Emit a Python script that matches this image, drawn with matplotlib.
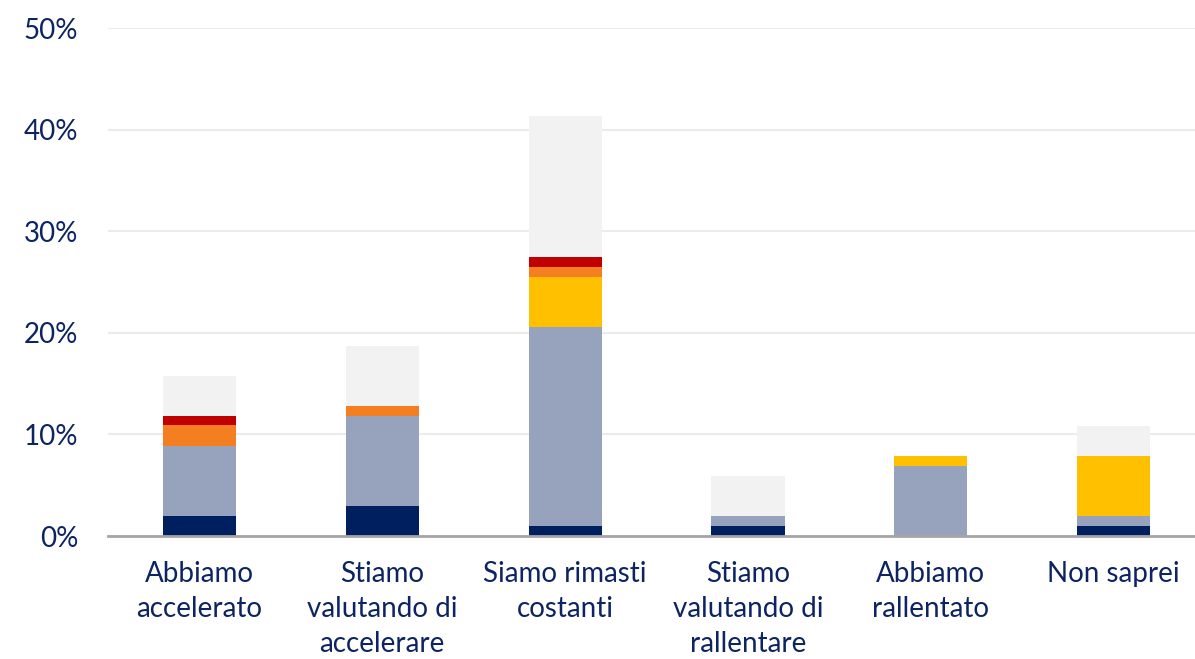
import matplotlib.pyplot as plt
import numpy as np

plt.rcParams['font.family'] = ['Lato', 'DejaVu Sans']

categories = ['Abbiamo\naccelerato', 'Stiamo\nvalutando di\naccelerare', 'Siamo rimasti\ncostanti',
              'Stiamo\nvalutando di\nrallentare', 'Abbiamo\nrallentato', 'Non saprei']

# segment values (%), bottom to top
navy = [2.0, 3.0, 1.0, 1.0, 0.0, 1.0]
greyblue = [6.9, 8.8, 19.6, 1.0, 6.9, 1.0]
yellow = [0.0, 0.0, 4.9, 0.0, 1.0, 5.85]
orange = [2.0, 0.95, 1.0, 0.0, 0.0, 0.0]
red = [0.95, 0.0, 1.0, 0.0, 0.0, 0.0]
lightgrey = [3.9, 6.0, 13.8, 3.9, 0.0, 3.0]

series = [navy, greyblue, yellow, orange, red, lightgrey]
colors = ['#001f5f', '#97a3bd', '#ffc000', '#f47f20', '#c00000', '#f2f2f2']

text_col = '#0d2463'

fig = plt.figure(figsize=(11.95, 6.59), dpi=100)
ax = fig.add_axes([0.0904, 0.1866, 0.918, 0.7709])

x = np.arange(len(categories))
bottom = np.zeros(len(categories))
for vals, c in zip(series, colors):
    ax.bar(x, vals, bottom=bottom, width=0.4, color=c, zorder=3)
    bottom += np.array(vals)

ax.set_xlim(-0.5, len(categories) - 0.5)
ax.set_ylim(0, 50)
ax.set_yticks([0, 10, 20, 30, 40, 50])
ax.set_yticklabels(['0%', '10%', '20%', '30%', '40%', '50%'])
ax.set_xticks(x)
ax.set_xticklabels(categories)

ax.yaxis.grid(True, color='#ebebeb', linewidth=1.5, zorder=0)
for s in ['top', 'right', 'left']:
    ax.spines[s].set_visible(False)
ax.spines['bottom'].set_color('#a6a6a6')
ax.spines['bottom'].set_linewidth(2)
ax.spines['bottom'].set_zorder(4)

ax.tick_params(axis='both', length=0, labelsize=20, labelcolor=text_col)
ax.tick_params(axis='y', pad=21.6)
ax.tick_params(axis='x', pad=18)
for lbl in ax.get_xticklabels():
    lbl.set_linespacing(1.42)

fig.savefig('out.png', dpi=100)
